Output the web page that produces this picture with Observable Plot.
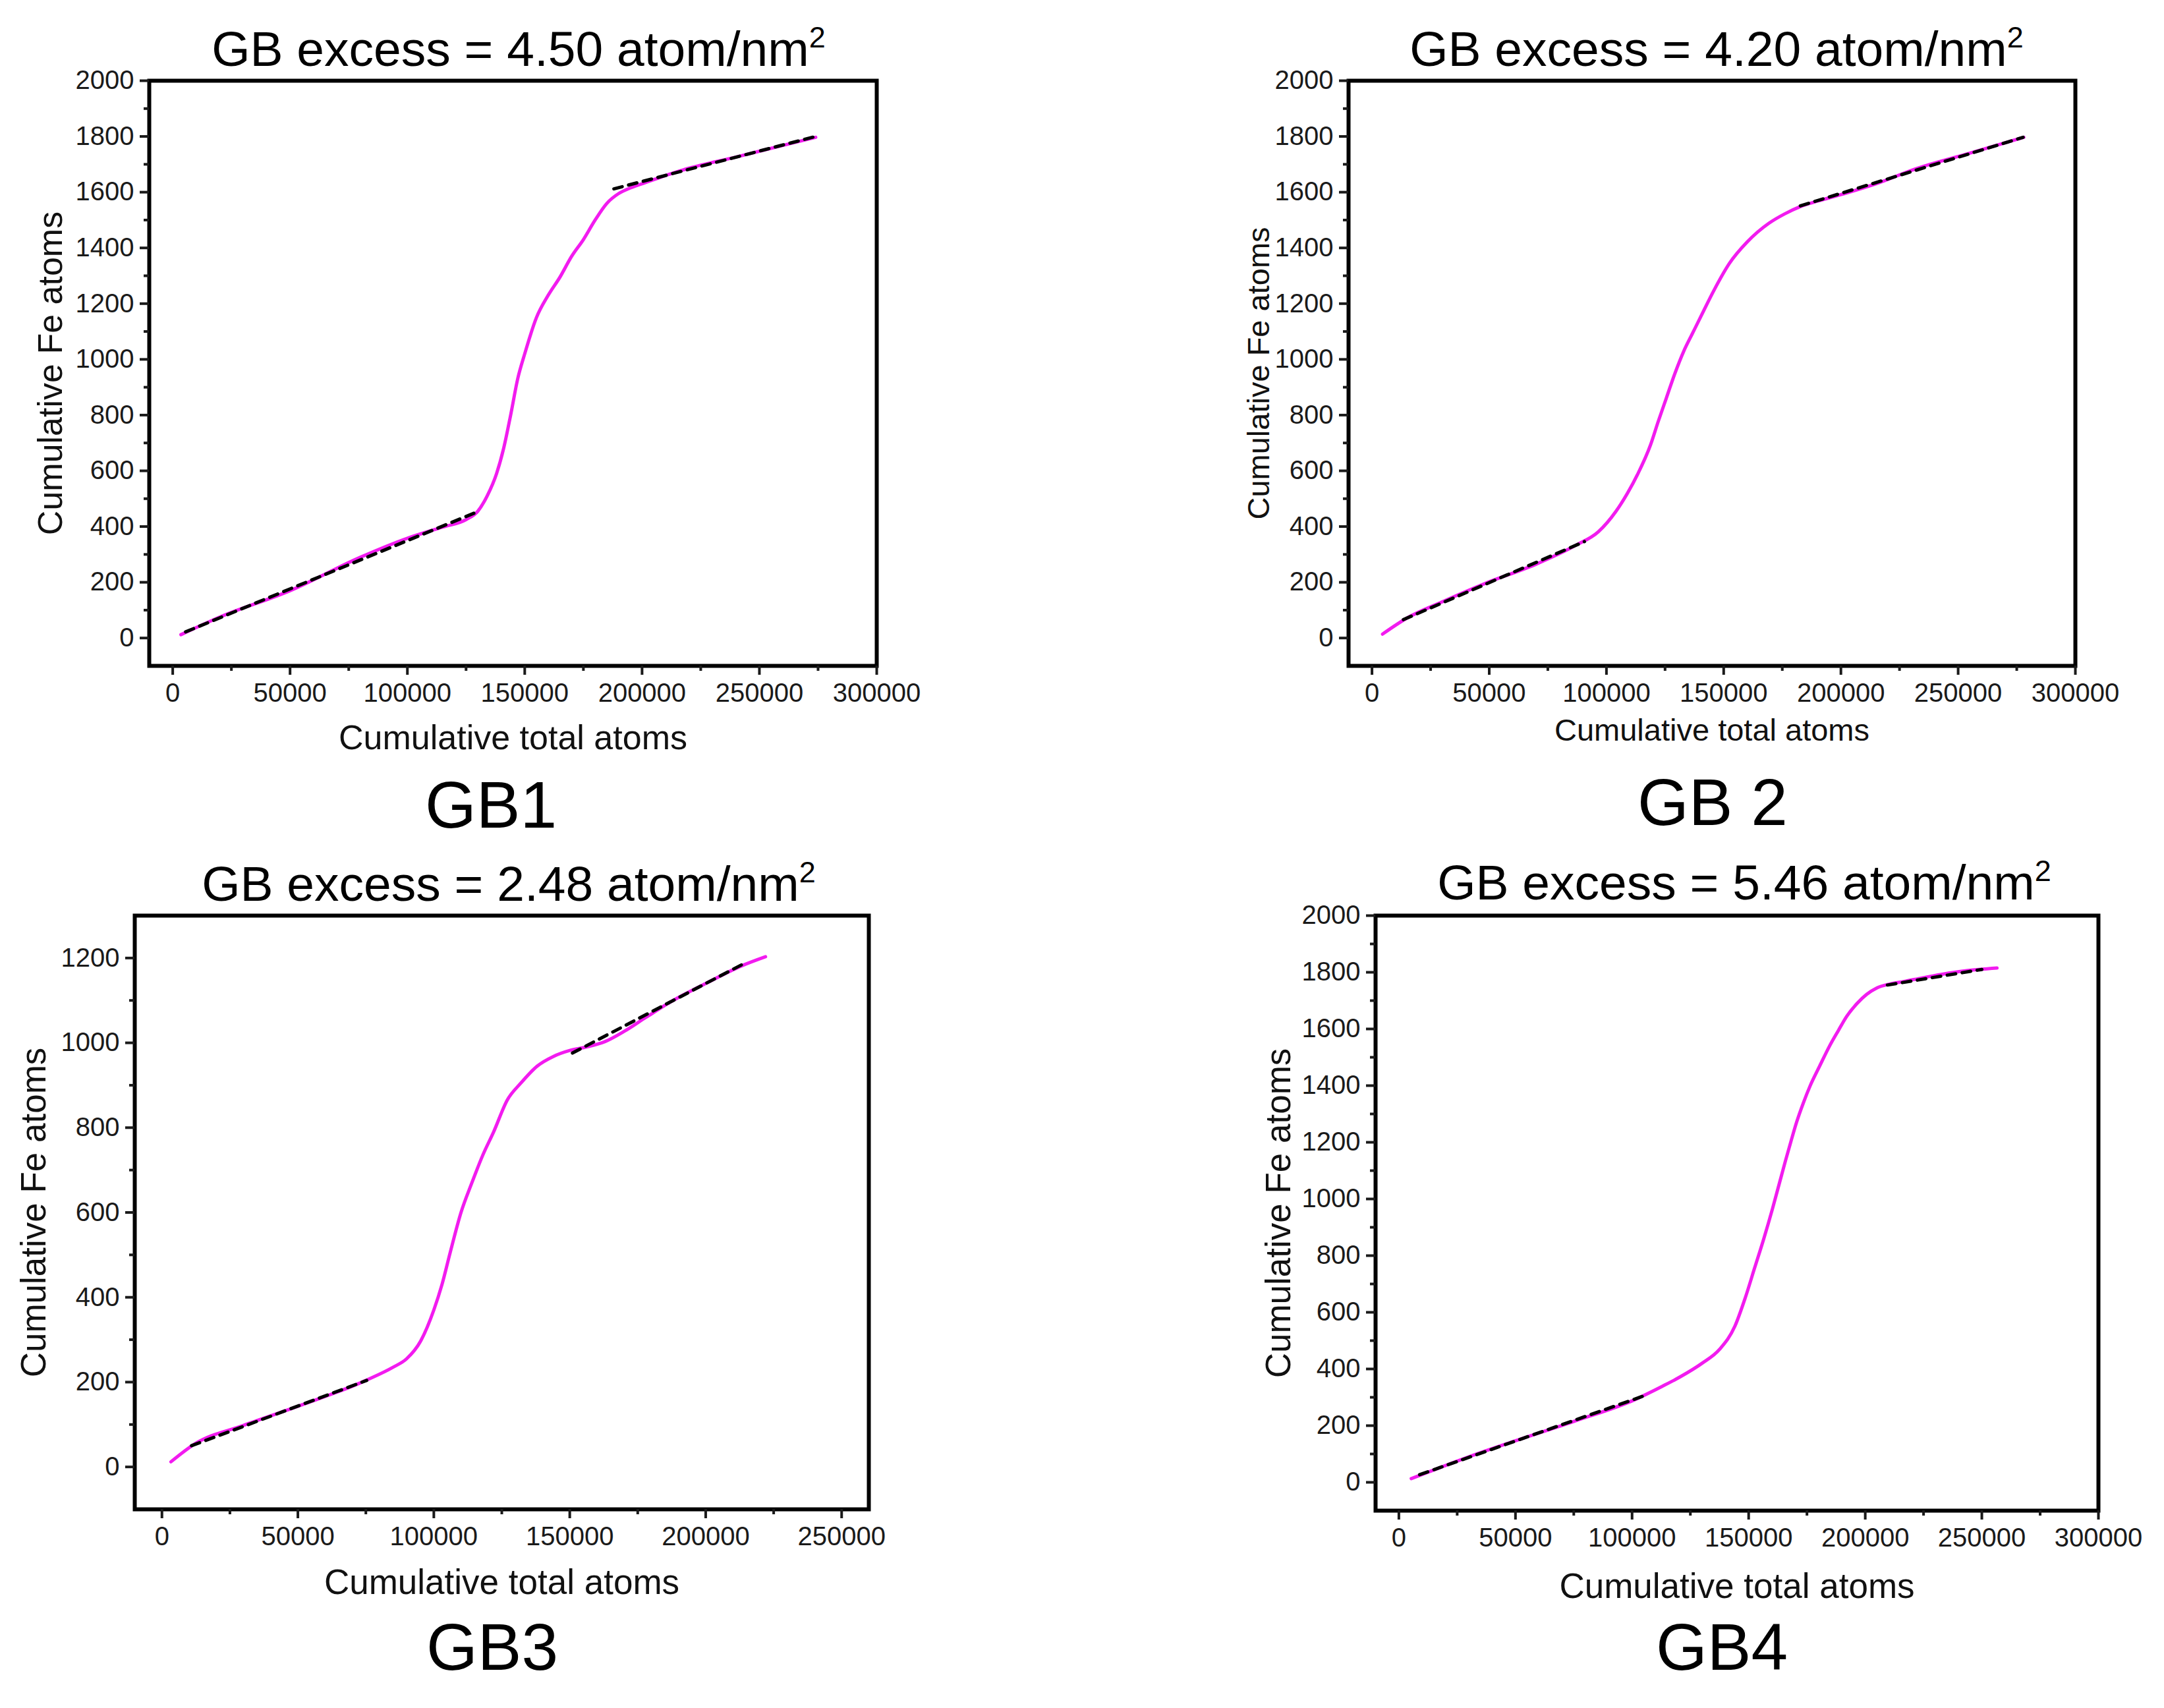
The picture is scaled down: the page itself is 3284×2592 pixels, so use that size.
<!DOCTYPE html>
<html><head><meta charset="utf-8">
<script src="https://cdn.jsdelivr.net/npm/d3@7"></script>
<script src="https://cdn.jsdelivr.net/npm/@observablehq/plot@0.6"></script>
<style>
body{margin:0;background:#fff;}
#root{position:relative;width:3284px;height:2592px;background:#fff;font-family:"Liberation Sans",Arial,sans-serif;overflow:hidden;}
.panel{position:absolute;}
.title{position:absolute;width:1400px;text-align:center;font-size:75px;line-height:75px;color:#000;white-space:nowrap;}
.title sup{font-size:0.6em;line-height:0;vertical-align:0.62em;}
.gb{position:absolute;width:600px;text-align:center;font-size:100px;line-height:100px;color:#000;white-space:nowrap;}
</style></head><body><div id="root"></div>
<script>
// ---- tick values ----
const xTicks300 = [0, 50000, 100000, 150000, 200000, 250000, 300000];
const xMinor300 = [25000, 75000, 125000, 175000, 225000, 275000];
const xTicks250 = [0, 50000, 100000, 150000, 200000, 250000];
const xMinor250 = [25000, 75000, 125000, 175000, 225000];
const yTicks2000 = [0, 200, 400, 600, 800, 1000, 1200, 1400, 1600, 1800, 2000];
const yMinor2000 = [100, 300, 500, 700, 900, 1100, 1300, 1500, 1700, 1900];
const yTicks1200 = [0, 200, 400, 600, 800, 1000, 1200];
const yMinor1200 = [100, 300, 500, 700, 900, 1100];

// ---- titles / labels ----
const titles = ["4.50", "4.20", "2.48", "5.46"];
const gbNames = ["GB1", "GB 2", "GB3", "GB4"];
const xLabel = "Cumulative total atoms";
const yLabel = "Cumulative Fe atoms";

// ---- GB1 ----
const gb1X = [3500, 20000, 50000, 80000, 100000, 115000, 125000, 130000, 134000, 138000, 141000, 144000, 147000, 150000, 155000, 160000, 165000, 170000, 175000, 180000, 185000, 190000, 195000, 200000, 210000, 220000, 240000, 260000, 274000];
const gb1Y = [12, 75, 170, 290, 358, 398, 425, 455, 510, 590, 680, 800, 930, 1020, 1150, 1230, 1295, 1370, 1430, 1500, 1560, 1595, 1615, 1630, 1660, 1686, 1726, 1768, 1797];
const gb1FitLowX = [5500, 129000], gb1FitLowY = [22, 450];
const gb1FitHighX = [188000, 274000], gb1FitHighY = [1612, 1800];

// ---- GB2 ----
const gb2X = [4500, 15000, 30000, 48000, 70000, 87000, 96500, 104000, 109000, 113200, 118800, 122000, 125500, 129000, 133000, 136800, 141500, 146000, 152500, 160000, 169400, 176000, 182600, 190000, 202000, 215000, 232000, 255000, 278000];
const gb2Y = [14, 72, 130, 195, 265, 333, 381, 454, 520, 586, 693, 775, 860, 945, 1030, 1095, 1175, 1250, 1345, 1421, 1489, 1522, 1548, 1568, 1596, 1630, 1684, 1740, 1797];
const gb2FitLowX = [13400, 90600], gb2FitLowY = [66, 346];
const gb2FitHighX = [182700, 277700], gb2FitHighY = [1551, 1797];

// ---- GB3 ----
const gb3X = [3300, 12000, 30000, 50000, 75000, 85000, 90000, 95000, 100000, 103000, 106000, 110000, 114000, 118000, 122000, 127000, 132000, 138000, 144000, 150000, 156000, 163000, 170000, 178000, 188000, 200000, 213000, 222000];
const gb3Y = [12, 54, 98, 143, 204, 235, 255, 295, 370, 430, 505, 600, 670, 735, 790, 865, 905, 945, 968, 982, 990, 1003, 1027, 1060, 1100, 1140, 1181, 1203];
const gb3FitLowX = [10900, 75300], gb3FitLowY = [50, 204];
const gb3FitHighX = [151000, 214100], gb3FitHighY = [976, 1187];

// ---- GB4 ----
const gb4X = [5300, 30000, 50500, 75000, 101000, 113000, 120600, 130000, 137600, 144100, 148500, 152500, 156500, 160200, 163000, 165800, 168200, 170600, 173500, 176300, 180500, 184700, 188500, 192100, 196500, 200600, 205000, 210200, 217000, 224300, 233000, 242900, 256500];
const gb4Y = [13, 90, 148, 215, 291, 339, 372, 420, 470, 551, 650, 755, 860, 965, 1050, 1135, 1205, 1272, 1340, 1398, 1470, 1540, 1595, 1645, 1690, 1722, 1745, 1758, 1768, 1780, 1793, 1805, 1815];
const gb4FitLowX = [8900, 105400], gb4FitLowY = [27, 306];
const gb4FitHighX = [209500, 250000], gb4FitHighY = [1755, 1810];

const panels = [
  {X: gb1X, Y: gb1Y, fits: [[gb1FitLowX, gb1FitLowY], [gb1FitHighX, gb1FitHighY]],
   left: 0, top: 0, ml: 226, mr: 312, mt: 122, mb: 286,
   xd: [-10000, 300000], yd: [-100, 2000], xt: xTicks300, xm: xMinor300, yt: yTicks2000, ym: yMinor2000,
   ylx: -149, xly: 110, lab: 52, title: {cx: 787, base: 100}, gb: {cx: 745, base: 1256}},
  {X: gb2X, Y: gb2Y, fits: [[gb2FitLowX, gb2FitLowY], [gb2FitHighX, gb2FitHighY]],
   left: 1642, top: 0, ml: 404, mr: 135, mt: 122, mb: 286,
   xd: [-10000, 300000], yd: [-100, 2000], xt: xTicks300, xm: xMinor300, yt: yTicks2000, ym: yMinor2000,
   ylx: -136, xly: 98, lab: 47, title: {cx: 2605, base: 100}, gb: {cx: 2599, base: 1252}},
  {X: gb3X, Y: gb3Y, fits: [[gb3FitLowX, gb3FitLowY], [gb3FitHighX, gb3FitHighY]],
   left: 0, top: 1296, ml: 204, mr: 324, mt: 93, mb: 302,
   xd: [-10000, 260000], yd: [-100, 1300], xt: xTicks250, xm: xMinor250, yt: yTicks1200, ym: yMinor1200,
   ylx: -152, xly: 112, lab: 53, title: {cx: 772, base: 1367}, gb: {cx: 747, base: 2534}},
  {X: gb4X, Y: gb4Y, fits: [[gb4FitLowX, gb4FitLowY], [gb4FitHighX, gb4FitHighY]],
   left: 1642, top: 1296, ml: 445, mr: 100, mt: 93, mb: 300,
   xd: [-10000, 300000], yd: [-100, 2000], xt: xTicks300, xm: xMinor300, yt: yTicks2000, ym: yMinor2000,
   ylx: -146, xly: 116, lab: 53, title: {cx: 2647, base: 1365}, gb: {cx: 2613, base: 2534}}
];

const root = document.getElementById("root");
const fmt = d => String(d);
const blank = () => "";

panels.forEach((p, i) => {
  const curve = p.X.map((x, j) => ({x, y: p.Y[j]}));
  const fitData = [];
  p.fits.forEach(([fx, fy], k) => fx.forEach((x, j) => fitData.push({x, y: fy[j], seg: k})));

  const chart = Plot.plot({
    width: 1642, height: 1296,
    marginLeft: p.ml, marginRight: p.mr, marginTop: p.mt, marginBottom: p.mb,
    style: {background: "transparent", fontFamily: '"Liberation Sans", Arial, sans-serif', overflow: "visible"},
    x: {domain: p.xd},
    y: {domain: p.yd},
    marks: [
      Plot.line(curve, {x: "x", y: "y", stroke: "#f21bef", strokeWidth: 5, curve: "monotone-x"}),
      Plot.line(fitData, {x: "x", y: "y", z: "seg", stroke: "#000", strokeWidth: 5, strokeDasharray: "13 10"}),
      Plot.frame({stroke: "#000", strokeWidth: 6}),
      Plot.axisX(p.xt, {anchor: "bottom", tickSize: 14, tickPadding: 12, tickFormat: fmt, fontSize: 40, strokeWidth: 4, color: "#1a1a1a", label: null}),
      Plot.axisX(p.xm, {anchor: "bottom", tickSize: 8, tickFormat: blank, strokeWidth: 4, color: "#1a1a1a", label: null}),
      Plot.axisY(p.yt, {anchor: "left", tickSize: 14, tickPadding: 9, tickFormat: fmt, fontSize: 40, strokeWidth: 4, color: "#1a1a1a", label: null}),
      Plot.axisY(p.ym, {anchor: "left", tickSize: 8, tickFormat: blank, strokeWidth: 4, color: "#1a1a1a", label: null}),
      Plot.text([xLabel], {text: d => d, frameAnchor: "bottom", dy: p.xly, fontSize: p.lab, lineAnchor: "middle", fill: "#111"}),
      Plot.text([yLabel], {text: d => d, frameAnchor: "left", dx: p.ylx, rotate: -90, fontSize: p.lab, lineAnchor: "middle", textAnchor: "middle", fill: "#111"})
    ]
  });
  const holder = document.createElement("div");
  holder.className = "panel";
  holder.style.left = p.left + "px";
  holder.style.top = p.top + "px";
  holder.appendChild(chart);
  root.appendChild(holder);

  const t = document.createElement("div");
  t.className = "title";
  t.style.left = (p.title.cx - 700) + "px";
  t.style.top = (p.title.base - 0.8465 * 75) + "px";
  t.innerHTML = "GB excess = " + titles[i] + " atom/nm<sup>2</sup>";
  root.appendChild(t);

  const g = document.createElement("div");
  g.className = "gb";
  g.style.left = (p.gb.cx - 300) + "px";
  g.style.top = (p.gb.base - 0.8465 * 100) + "px";
  g.textContent = gbNames[i];
  root.appendChild(g);
});
</script>
</body></html>
